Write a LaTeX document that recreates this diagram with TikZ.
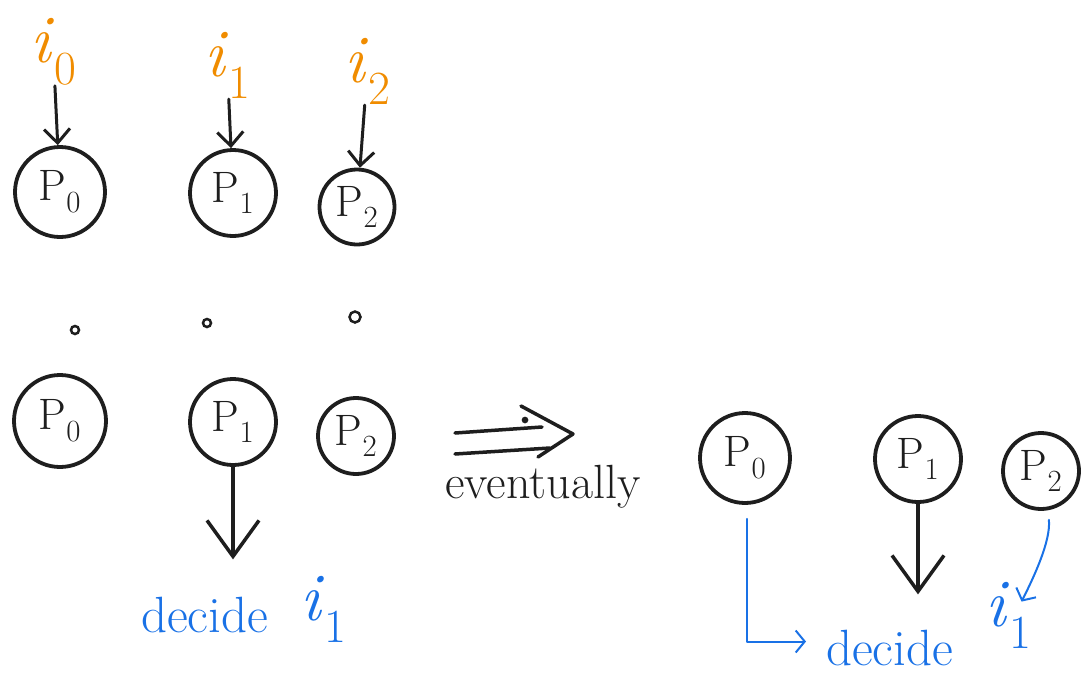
\documentclass[tikz,border=0pt]{standalone}
\usetikzlibrary{arrows.meta}
\definecolor{ink}{HTML}{1E1E1E}
\definecolor{orng}{HTML}{F08C00}
\definecolor{blu}{HTML}{1971E6}
\tikzset{
  proc/.style={circle, draw=ink, line width=3.8pt, inner sep=0pt, text=ink,
    font=\fontsize{44}{44}\selectfont},
  ilab/.style={inner sep=0pt, anchor=base west, font=\fontsize{68}{68}\selectfont},
  declab/.style={inner sep=0pt, anchor=base west, text=blu, font=\fontsize{51}{51}\selectfont},
  dotmark/.style={circle, draw=ink, line width=2.5pt, inner sep=0pt, minimum size=8pt},
  toparrow/.style={draw=ink, line width=3pt, line cap=round,
    -{Straight Barb[length=14pt,width=26pt]}},
  bigarrow/.style={draw=ink, line width=3.5pt, line cap=round,
    -{Straight Barb[length=36pt,width=52pt]}},
  bluearrow/.style={draw=blu, line width=2pt, line cap=round, line join=round,
    -{Straight Barb[length=9pt,width=22pt]}},
  thick ink/.style={draw=ink, line width=3.5pt, line cap=round, line join=round}
}
\newcommand{\lbl}[1]{\textit{i}\textsubscript{#1}}
\newcommand{\prc}[1]{P\textsubscript{#1}}
\begin{document}
\begin{tikzpicture}[x=1pt,y=-1pt]
\useasboundingbox (0,0) rectangle (1092,675);

% top row
\node[ilab, text=orng] (l0) at (30,62) {\lbl{0}};
\node[ilab, text=orng] (l1) at (204,76) {\lbl{1}};
\node[ilab, text=orng] (l2) at (344,82) {\lbl{2}};
\node[proc, minimum size=90pt] (P0t) at (60,192) {\prc{0}};
\node[proc, minimum size=86pt] (P1t) at (233,193) {\prc{1}};
\node[proc, minimum size=75pt] (P2t) at (357,207) {\prc{2}};
\draw[toparrow] (l0) -- (P0t);
\draw[toparrow] (l1) -- (P1t);
\draw[toparrow] (l2) -- (P2t);

% dots
\node[dotmark] (d0) at (75,330) {};
\node[dotmark] (d1) at (207,323) {};
\node[dotmark, minimum size=11pt] (d2) at (355,317) {};

% middle row
\node[proc, minimum size=92pt] (P0m) at (60,421) {\prc{0}};
\node[proc, minimum size=86pt] (P1m) at (233,422) {\prc{1}};
\node[proc, minimum size=76pt] (P2m) at (356,436) {\prc{2}};
\node[declab] (decL) at (141,632) {decide};
\node[ilab, text=blu] (iL) at (300,620) {\lbl{1}};
\draw[bigarrow, shorten >=37pt] (P1m) -- (P1m |- decL.north);

% eventually arrow
\draw[thick ink] (455,433) -- (542,427);
\draw[thick ink] (455,454) -- (550,448);
\draw[thick ink] (521,406) -- (573,434) -- (538,457);
\node[dotmark, minimum size=4pt, fill=ink] (dd) at (525,420) {};
\node[inner sep=0pt, anchor=base west, text=ink, font=\fontsize{48}{48}\selectfont] (ev) at (445,498) {eventually};

% right row
\node[proc, minimum size=90pt] (P0r) at (745,458) {\prc{0}};
\node[proc, minimum size=86pt] (P1r) at (918,459) {\prc{1}};
\node[proc, minimum size=76pt] (P2r) at (1041,471) {\prc{2}};
\node[declab] (decR) at (826,665) {decide};
\node[ilab, text=blu] (iR) at (985,626) {\lbl{1}};
\draw[bigarrow, shorten >=35pt] (P1r) -- (P1r |- decR.north);
\draw[bluearrow, shorten <=14pt, shorten >=20pt] ([xshift=2pt]P0r.south) |- ([yshift=6pt]decR.west);
\draw[bluearrow, shorten <=9pt] ([xshift=7pt]P2r.south) .. controls +(3,30) and +(12,-24) .. ([xshift=-10pt,yshift=-20pt]iR.north east);
\end{tikzpicture}
\end{document}
